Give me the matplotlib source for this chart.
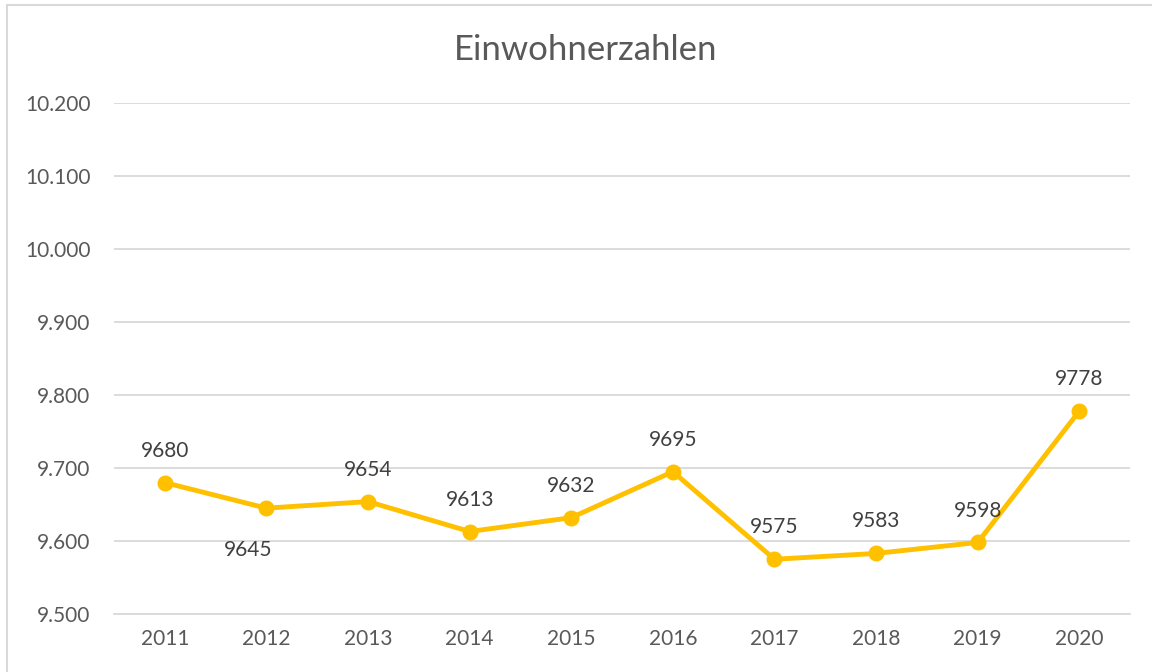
import matplotlib.pyplot as plt
from matplotlib.patches import Rectangle
from matplotlib.ticker import FuncFormatter

years = ["2011", "2012", "2013", "2014", "2015", "2016", "2017", "2018", "2019", "2020"]
population = [9680, 9645, 9654, 9613, 9632, 9695, 9575, 9583, 9598, 9778]
label_below = [False, True, False, False, False, False, False, False, False, False]

plt.rcParams["font.family"] = ["Lato", "DejaVu Sans"]

fig = plt.figure(figsize=(11.52, 6.72), dpi=100)
ax = fig.add_axes([0.099, 0.0863, 0.882, 0.7604])

# chart border (light grey frame)
fig.patches.append(Rectangle((7 / 1152, -0.01), 1.02, 1 - 5 / 672 + 0.01,
                             transform=fig.transFigure, fill=False,
                             edgecolor="#D9D9D9", linewidth=1.5))

x = list(range(len(years)))
ax.plot(x, population, color="#FFC000", linewidth=3.5, marker="o",
        markersize=10.5, zorder=3)

for xi, yi, below in zip(x, population, label_below):
    dx = -13 if below else 0
    ax.annotate(str(yi), (xi, yi), xytext=(dx, -30 if below else 23),
                textcoords="offset points", ha="center", va="center",
                fontsize=15, color="#404040")

ax.set_xlim(-0.5, len(years) - 0.5)
ax.set_ylim(9500, 10200)
ax.set_yticks(range(9500, 10201, 100))
ax.yaxis.set_major_formatter(FuncFormatter(lambda v, p: f"{int(v):,}".replace(",", ".")))
ax.set_xticks(x)
ax.set_xticklabels(years)
ax.grid(axis="y", color="#D9D9D9", linewidth=1.3)
ax.set_axisbelow(True)
for s in ["top", "right", "left"]:
    ax.spines[s].set_visible(False)
ax.spines["bottom"].set_color("#D9D9D9")
ax.spines["bottom"].set_linewidth(1.3)
ax.tick_params(length=0, labelsize=15, labelcolor="#595959", pad=11)
ax.tick_params(axis="y", pad=17)

fig.text(0.508, 0.925, "Einwohnerzahlen", ha="center", va="center",
         fontsize=25, color="#595959")

fig.savefig("out.png", dpi=100)
